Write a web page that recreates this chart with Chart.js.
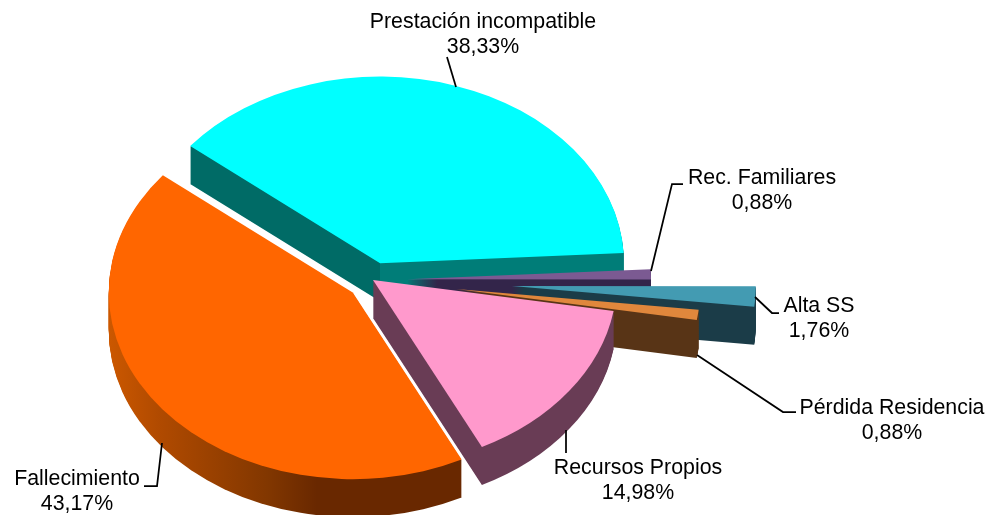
<!DOCTYPE html>
<html lang="es">
<head>
<meta charset="utf-8">
<style>html,body{margin:0;padding:0;background:#fff}canvas{display:block}</style>
<script src="https://cdn.jsdelivr.net/npm/chart.js@4"></script>
</head>
<body>
<canvas id="c" width="989" height="515"></canvas>
<script>
const categories = ['Prestación incompatible','Rec. Familiares','Alta SS','Pérdida Residencia','Recursos Propios','Fallecimiento'];
const shares = [38.33,0.88,1.76,0.88,14.98,43.17];
const topColors = ['#00ffff','#7b5a92','#439bb2','#e0873c','#ff99cc','#ff6600'];
const explodeBy = [23,34,139,84,0,26];
// wall paint: [screen x, colour] stops
const wallStops = [
  [[190,'#006b66'],[380,'#006b66'],[380.01,'#007d78'],[625,'#007d78']],
  [[407,'#33254a'],[651,'#33254a']],
  [[512,'#1b3c48'],[755,'#1b3c48']],
  [[457,'#583416'],[699,'#583416']],
  [[373,'#693c55'],[615,'#693c55']],
  [[108,'#cc5800'],[160,'#b04a00'],[267,'#823700'],[317,'#692800'],[461,'#692800']]
];
const TILT = 0.765, DEPTH = 38;
const FONT = '21.33px "Liberation Sans", Arial, sans-serif';
const callouts = [
  {text:[483,28], line:[[456,87],[447,57]]},
  {text:[762,184], line:[[651,271],[672,184],[683,184]]},
  {text:[819,312], line:[[755,297],[772,313],[779,313]]},
  {text:[892,414], line:[[697,355],[783,412],[796,412]]},
  {text:[638,474], line:[[566,430],[566,453]]},
  {text:[77,485], line:[[162,443],[157,486],[144,486]]}
];
const pct = v => v.toFixed(2).replace('.',',') + '%';

const pie3d = {
  id:'pie3d',
  beforeDatasetDraw(chart, args){
    const ctx = chart.ctx;
    const arcs = args.meta.data;
    arcs.forEach((arc,i)=>{
      const mid = (arc.startAngle + arc.endAngle)/2;
      const ox = Math.cos(mid)*explodeBy[i], oy = Math.sin(mid)*explodeBy[i]*TILT;
      const base = arc.options;
      const paint = (dy, fill)=>{
        ctx.save();
        ctx.translate(arc.x+ox, arc.y+oy+dy);
        ctx.scale(1,TILT);
        ctx.translate(-arc.x,-arc.y);
        arc.options = Object.assign({},base,{backgroundColor:fill(),borderWidth:0});
        arc.draw(ctx);
        ctx.restore();
      };
      const stops = wallStops[i];
      const x0 = stops[0][0]-ox, x1 = stops[stops.length-1][0]-ox;
      const wall = ()=>{
        const g = ctx.createLinearGradient(x0,0,x1,0);
        stops.forEach(s=>g.addColorStop((s[0]-ox-x0)/(x1-x0),s[1]));
        return g;
      };
      for(let d=DEPTH;d>=1;d--) paint(d,wall);
      paint(0,()=>topColors[i]);
      arc.options = base;
    });
    return false;
  },
  afterDraw(chart){
    const ctx = chart.ctx;
    ctx.save();
    ctx.strokeStyle='#000';ctx.lineWidth=1.75;
    callouts.forEach(c=>{
      ctx.beginPath();
      c.line.forEach((p,k)=>k?ctx.lineTo(p[0],p[1]):ctx.moveTo(p[0],p[1]));
      ctx.stroke();
    });
    ctx.fillStyle='#000';ctx.font=FONT;ctx.textAlign='center';ctx.textBaseline='alphabetic';
    callouts.forEach((c,i)=>{
      ctx.fillText(categories[i],c.text[0],c.text[1]);
      ctx.fillText(pct(shares[i]),c.text[0],c.text[1]+25);
    });
    ctx.restore();
  }
};

new Chart(document.getElementById('c'),{
  type:'pie',
  data:{labels:categories,datasets:[{data:shares,backgroundColor:topColors,borderWidth:0}]},
  options:{
    responsive:false,animation:false,
    rotation:-51.1,radius:244,
    layout:{padding:{left:0,right:243,top:45,bottom:0}},
    plugins:{legend:{display:false},tooltip:{enabled:false}}
  },
  plugins:[pie3d]
});
</script>
</body>
</html>
